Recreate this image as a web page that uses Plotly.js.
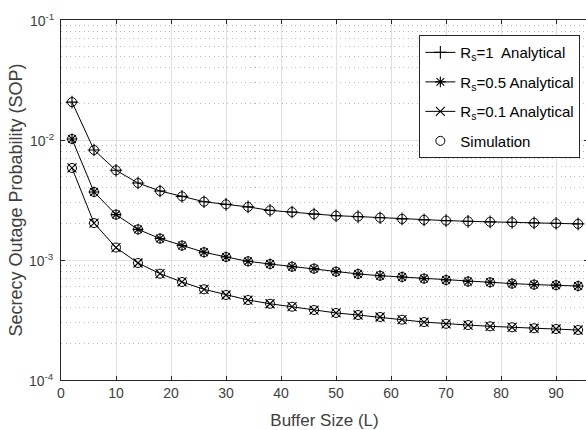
<!DOCTYPE html>
<html>
<head>
<meta charset="utf-8">
<script src="https://cdn.plot.ly/plotly-3.0.1.min.js"></script>
<style>html,body{margin:0;padding:0;background:#fff;overflow:hidden;}#chart{width:590px;height:430px;}</style>
</head>
<body>
<div id="chart"></div>
<script>
const bufferSize = [2,6,10,14,18,22,26,30,34,38,42,46,50,54,58,62,66,70,74,78,82,86,90,94];
const sopRs1 = [0.0207,0.00826,0.00559,0.00438,0.00376,0.00339,0.00306,0.00291,0.00277,0.00259,0.00251,0.00241,0.00234,0.00230,0.00225,0.00220,0.00216,0.00213,0.00210,0.00208,0.00206,0.00204,0.00202,0.00200];
const sopRs05 = [0.0102,0.00369,0.00239,0.00180,0.00151,0.00132,0.00116,0.00106,0.000975,0.000926,0.000880,0.000847,0.000800,0.000765,0.000740,0.000722,0.000700,0.000681,0.000662,0.000652,0.000636,0.000624,0.000617,0.000607];
const sopRs01 = [0.00585,0.00203,0.00127,0.000944,0.000769,0.000656,0.000570,0.000511,0.000464,0.000432,0.000408,0.000383,0.000362,0.000348,0.000335,0.000318,0.000304,0.000294,0.000287,0.000280,0.000275,0.000270,0.000266,0.000261];
const seriesNames = ['R<sub>s</sub>=1  Analytical','R<sub>s</sub>=0.5 Analytical','R<sub>s</sub>=0.1 Analytical'];
const simName = 'Simulation';
const xTicks = [0,10,20,30,40,50,60,70,80,90];
const yTickVals = [1e-4,1e-3,1e-2,1e-1];
const yTickText = ['10<sup>-4</sup>','10<sup>-3</sup>','10<sup>-2</sup>','10<sup>-1</sup>'];

const sets = [sopRs1, sopRs05, sopRs01];
const symbols = ['cross-thin-open','asterisk-open','x-thin-open'];
const traces = [];
sets.forEach((ys,i)=>{
  traces.push({
    x: bufferSize, y: ys, name: seriesNames[i], mode: 'lines+markers',
    legendgroup: 'a'+i,
    line: {color:'#000', width:1},
    marker: {symbol: symbols[i], size: 9, color:'#000', line:{color:'#000', width:1.1}}
  });
});
sets.forEach((ys,i)=>{
  traces.push({
    x: bufferSize, y: ys, name: simName, mode: 'markers',
    legendgroup: 'sim', showlegend: i===0,
    marker: {symbol:'circle-open', size: 9, color:'#000', line:{color:'#000', width:1}}
  });
});

const yLabelAnnotations = yTickVals.map((v,i)=>({
  xref:'paper', yref:'y', x:0, y:Math.log10(v), text:yTickText[i],
  xanchor:'right', yanchor:'middle', xshift:-5, showarrow:false,
  font:{size:14, color:'#404040'}
}));

const layout = {
  width: 590, height: 430,
  margin: {l:61, r:2, t:20, b:50},
  paper_bgcolor:'#fff', plot_bgcolor:'#fff',
  font: {family:'Liberation Sans, Arial, sans-serif', color:'#404040', size:13},
  showlegend: true,
  annotations: yLabelAnnotations,
  xaxis: {
    range:[0,95.8], tickvals:xTicks, ticks:'inside', ticklen:4, tickcolor:'#262626',
    showline:true, linecolor:'#262626', linewidth:1, mirror:'ticks',
    showgrid:true, gridcolor:'#e0e0e0', gridwidth:1, zeroline:false,
    tickfont:{size:14, color:'#404040'},
    title:{text:'Buffer Size (L)', font:{size:17, color:'#404040'}, standoff:14}
  },
  yaxis: {
    type:'log', range:[-4,-1], tickvals:yTickVals, showticklabels:false,
    ticks:'inside', ticklen:4, tickcolor:'#262626',
    showline:true, linecolor:'#262626', linewidth:1, mirror:'ticks',
    showgrid:true, gridcolor:'#e0e0e0', gridwidth:1, zeroline:false,
    minor:{showgrid:true, griddash:'1px,3.5px', gridcolor:'#b8b8b8', gridwidth:1, dtick:'D1'},
    title:{text:'Secrecy Outage Probability (SOP)', font:{size:18, color:'#404040'}, standoff:32}
  },
  legend: {
    x:0.68, y:0.958, xanchor:'left', yanchor:'top',
    bgcolor:'#fff', bordercolor:'#262626', borderwidth:1,
    font:{size:15, color:'#000'}, itemwidth:30, tracegroupgap:7
  }
};
Plotly.newPlot('chart', traces, layout, {displayModeBar:false, staticPlot:true});
</script>
</body>
</html>
